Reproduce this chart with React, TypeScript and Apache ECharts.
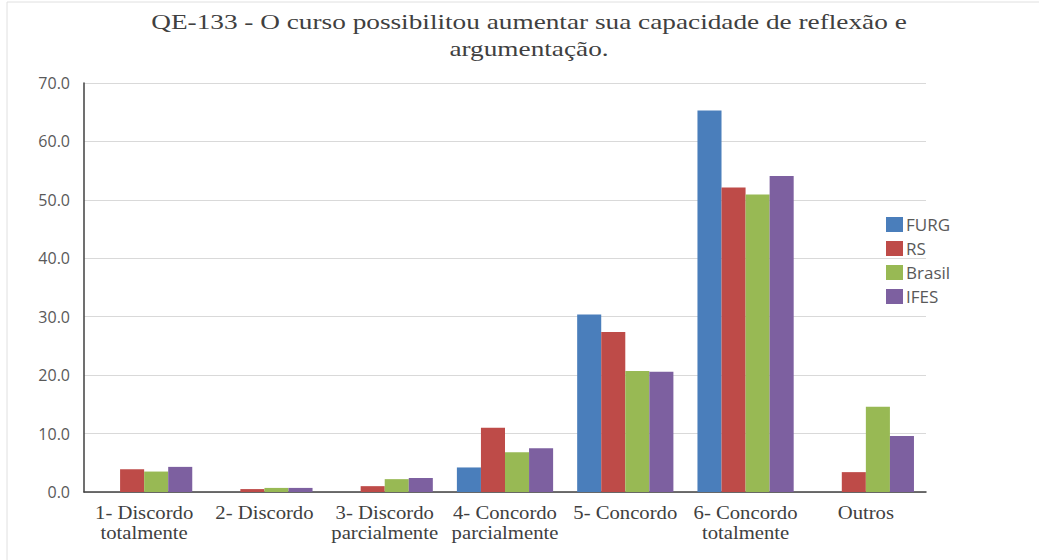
import React, { useEffect, useRef } from "react";
import * as echarts from "echarts";

const categories = [
  "1- Discordo\ntotalmente",
  "2- Discordo",
  "3- Discordo\nparcialmente",
  "4- Concordo\nparcialmente",
  "5- Concordo",
  "6- Concordo\ntotalmente",
  "Outros",
];
const furg = [0, 0, 0, 4.2, 30.4, 65.3, 0];
const rs = [3.9, 0.5, 1.0, 11.0, 27.4, 52.1, 3.4];
const brasil = [3.5, 0.7, 2.2, 6.8, 20.7, 50.9, 14.6];
const ifes = [4.3, 0.7, 2.4, 7.5, 20.6, 54.1, 9.6];
const seriesNames = ["FURG", "RS", "Brasil", "IFES"];
const colors = ["#4a7ebb", "#be4b48", "#98b954", "#7d60a0"];
const titleText = "QE-133 - O curso possibilitou aumentar sua capacidade de reflexão e\nargumentação.";

const SERIF = "Liberation Serif";
const SANS = "Open Sans";

export default function App() {
  const ref = useRef<HTMLDivElement>(null);
  useEffect(() => {
    document.body.style.margin = "0";
    const chart = echarts.init(ref.current!, null, { renderer: "svg" });
    const data = [furg, rs, brasil, ifes];
    chart.setOption({
      animation: false,
      backgroundColor: "#ffffff",
      legend: {
        orient: "vertical",
        left: 881,
        top: 211,
        itemWidth: 17,
        itemHeight: 15,
        itemGap: 7,
        icon: "rect",
        textStyle: { fontFamily: SANS, fontSize: 17, color: "#595959", padding: [0, 0, 0, -2] },
        data: seriesNames,
      },
      grid: { left: 84, right: 113, top: 83, bottom: 68, containLabel: false },
      xAxis: {
        type: "category",
        data: categories,
        axisLine: { lineStyle: { color: "#404040", width: 1.5 } },
        axisTick: { show: false },
        axisLabel: { show: false },
      },
      yAxis: {
        type: "value",
        min: 0,
        max: 70,
        interval: 10,
        axisLine: { show: true, lineStyle: { color: "#404040", width: 1.5 } },
        axisTick: { show: false },
        splitLine: { lineStyle: { color: "#d9d9d9", width: 1 } },
        axisLabel: {
          formatter: (v: number) => v.toFixed(1),
          fontFamily: SANS,
          fontSize: 16,
          color: "#595959",
          margin: 14,
        },
      },
      series: seriesNames.map((name, i) => ({
        name,
        type: "bar",
        data: data[i],
        barGap: "0%",
        barCategoryGap: "20%",
        itemStyle: { color: colors[i] },
      })),
    });

    const baseY = chart.convertToPixel({ yAxisIndex: 0 }, 0) as number;
    const labelGraphics = categories.map((c, i) => ({
      type: "group",
      id: "xl" + i,
      x: chart.convertToPixel({ xAxisIndex: 0 }, i) as number,
      y: baseY + 11,
      scaleX: 1.15,
      children: [
        {
          type: "text",
          x: 0,
          y: 0,
          style: {
            text: c,
            fontFamily: SERIF,
            fontSize: 18,
            lineHeight: 20,
            fill: "#404040",
            textAlign: "center",
            align: "center",
            textVerticalAlign: "top",
            verticalAlign: "top",
          },
        },
      ],
    }));

    chart.setOption({
      graphic: [
        {
          type: "rect",
          id: "border",
          shape: { x: 7, y: 2, width: 1040, height: 570 },
          style: { fill: "none", stroke: "#e0e0e0", lineWidth: 1 },
          silent: true,
        },
        {
          type: "group",
          id: "title",
          x: 529,
          y: 8,
          scaleX: 1.24,
          children: [
            {
              type: "text",
              x: 0,
              y: 0,
              style: {
                text: titleText,
                fontFamily: SERIF,
                fontSize: 22,
                lineHeight: 27,
                fill: "#404040",
                textAlign: "center",
                align: "center",
                textVerticalAlign: "top",
                verticalAlign: "top",
              },
            },
          ],
        },
        ...labelGraphics,
      ],
    });
    return () => chart.dispose();
  }, []);
  return <div ref={ref} style={{ width: 1039, height: 560 }} />;
}
